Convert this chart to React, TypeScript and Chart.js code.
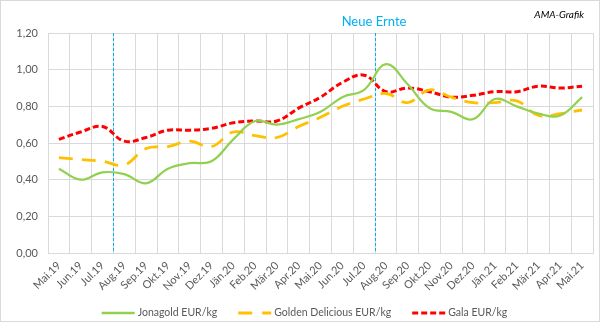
import React, { useEffect, useRef } from 'react';
import { Chart, registerables } from 'chart.js';

Chart.register(...registerables);

const categories = ['Mai.19','Jun.19','Jul.19','Aug.19','Sep.19','Okt.19','Nov.19','Dez.19','Jän.20','Feb.20','Mär.20','Apr.20','Mai.20','Jun.20','Jul.20','Aug.20','Sep.20','Okt.20','Nov.20','Dez.20','Jän.21','Feb.21','Mär.21','Apr.21','Mai.21'];
const jonagold = [0.46,0.40,0.44,0.43,0.38,0.46,0.49,0.50,0.62,0.72,0.70,0.73,0.77,0.85,0.89,1.03,0.92,0.79,0.77,0.73,0.84,0.80,0.76,0.75,0.85];
const goldenDelicious = [0.52,0.51,0.50,0.48,0.57,0.58,0.61,0.58,0.66,0.64,0.63,0.69,0.74,0.80,0.84,0.87,0.82,0.89,0.85,0.82,0.82,0.83,0.75,0.76,0.78];
const gala = [0.62,0.66,0.69,0.61,0.63,0.67,0.67,0.68,0.71,0.72,0.72,0.79,0.85,0.93,0.97,0.88,0.90,0.88,0.85,0.86,0.88,0.88,0.91,0.90,0.91];
const seriesNames = ['Jonagold EUR/kg', 'Golden Delicious EUR/kg', 'Gala EUR/kg'];
const yMin = 0;
const yMax = 1.2;
const yStep = 0.2;
// vertical markers placed between these category pairs
const markers: [string, string][] = [['Jul.19', 'Aug.19'], ['Jul.20', 'Aug.20']];
const markerLabel = 'Neue Ernte';
const sourceLabel = 'AMA-Grafik';

const FONT = 'Lato, "Open Sans", sans-serif';
const TEXT = '#595959';
const GRID = '#d9d9d9';
const BLUE = '#00B0F0';

const decor = {
  id: 'decor',
  beforeDraw(chart: any) {
    const { ctx, width, height } = chart;
    ctx.save();
    ctx.fillStyle = '#fff';
    ctx.fillRect(0, 0, width, height);
    ctx.strokeStyle = GRID;
    ctx.lineWidth = 1;
    ctx.strokeRect(0.5, 0.5, width - 1, height - 1);
    ctx.restore();
  },
  beforeDatasetsDraw(chart: any) {
    const { ctx, chartArea, scales } = chart;
    const x = scales.x;
    ctx.save();
    ctx.strokeStyle = BLUE;
    ctx.lineWidth = 1;
    ctx.setLineDash([3, 2]);
    markers.forEach(([a, b]) => {
      const px = Math.round((x.getPixelForValue(categories.indexOf(a)) + x.getPixelForValue(categories.indexOf(b))) / 2) + 0.5;
      ctx.beginPath();
      ctx.moveTo(px, chartArea.top);
      ctx.lineTo(px, chartArea.bottom);
      ctx.stroke();
    });
    ctx.restore();
  },
  afterDraw(chart: any) {
    const { ctx, scales } = chart;
    const x = scales.x;
    ctx.save();
    // marker label
    const [a, b] = markers[1];
    const mx = (x.getPixelForValue(categories.indexOf(a)) + x.getPixelForValue(categories.indexOf(b))) / 2;
    ctx.fillStyle = BLUE;
    ctx.font = `13px ${FONT}`;
    ctx.textAlign = 'center';
    ctx.textBaseline = 'middle';
    ctx.fillText(markerLabel, mx - 1, 22);
    // source label
    ctx.fillStyle = '#000';
    ctx.font = `italic 10px ${FONT}`;
    ctx.textAlign = 'right';
    ctx.fillText(sourceLabel, 584, 15);
    // legend
    ctx.font = `10.5px ${FONT}`;
    ctx.textAlign = 'left';
    const sample = 33;
    const gapText = 3;
    const gapItem = 21;
    const widths = chart.data.datasets.map((d: any) => sample + gapText + ctx.measureText(d.label).width);
    const total = widths.reduce((s: number, w: number) => s + w, 0) + gapItem * (widths.length - 1);
    let cx = 304.5 - total / 2;
    const ly = 313;
    chart.data.datasets.forEach((d: any, i: number) => {
      ctx.strokeStyle = d.borderColor;
      ctx.lineWidth = d.legendWidth;
      ctx.setLineDash(d.legendDash || []);
      ctx.beginPath();
      ctx.moveTo(cx, ly);
      ctx.lineTo(cx + sample, ly);
      ctx.stroke();
      ctx.setLineDash([]);
      ctx.fillStyle = TEXT;
      ctx.fillText(d.label, cx + sample + gapText, ly);
      cx += widths[i] + gapItem;
    });
    ctx.restore();
  },
};

export default function App() {
  const ref = useRef<HTMLCanvasElement>(null);
  useEffect(() => {
    const chart = new Chart(ref.current!, {
      type: 'line',
      data: {
        labels: categories,
        datasets: [
          { label: seriesNames[0], data: jonagold, borderColor: '#92D050', borderWidth: 2.2, tension: 0.4, pointRadius: 0, fill: false, legendWidth: 2.5 } as any,
          { label: seriesNames[1], data: goldenDelicious, borderColor: '#FFC000', borderWidth: 2.8, borderDash: [14, 9], tension: 0.4, pointRadius: 0, fill: false, legendWidth: 3, legendDash: [14, 10] } as any,
          { label: seriesNames[2], data: gala, borderColor: '#FF0000', borderWidth: 3, borderDash: [6, 3], tension: 0.4, pointRadius: 0, fill: false, legendWidth: 3, legendDash: [6, 3] } as any,
        ],
      },
      options: {
        animation: false,
        responsive: false,
        devicePixelRatio: 1,
        layout: { padding: { left: 0, right: 7, top: 33, bottom: 0 } },
        plugins: { legend: { display: false }, tooltip: { enabled: false } },
        scales: {
          x: {
            offset: true,
            grid: { color: GRID, offset: true, drawTicks: false },
            border: { color: GRID },
            ticks: { color: TEXT, font: { family: FONT, size: 11 }, minRotation: 45, maxRotation: 45, autoSkip: false, padding: 6 },
            afterFit: (s: any) => { s.height = 69; },
          },
          y: {
            min: yMin,
            max: yMax,
            grid: { color: GRID, drawTicks: false },
            border: { color: GRID },
            ticks: {
              stepSize: yStep,
              color: TEXT,
              font: { family: FONT, size: 11 },
              padding: 10,
              callback: (v: any) => Number(v).toFixed(2).replace('.', ','),
            },
            afterFit: (s: any) => { s.width = 48; },
          },
        },
      },
      plugins: [decor],
    });
    return () => chart.destroy();
  }, []);
  return (
    <div style={{ position: 'absolute', left: 0, top: 0, width: 600, height: 322 }}>
      <canvas ref={ref} width={600} height={322} />
    </div>
  );
}
